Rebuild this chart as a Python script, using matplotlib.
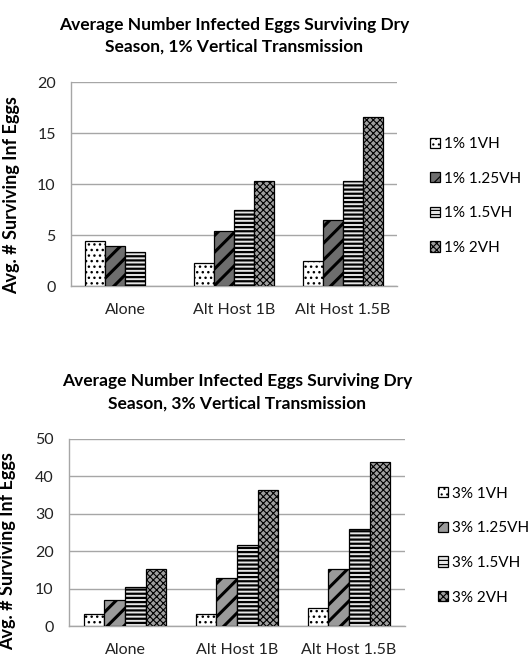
import matplotlib
matplotlib.use("Agg")
import matplotlib.pyplot as plt
from matplotlib.patches import Patch
import numpy as np

plt.rcParams['font.family'] = ['Lato', 'DejaVu Sans']

categories = ["Alone", "Alt Host 1B", "Alt Host 1.5B"]

# 1% vertical transmission
labels_1 = ["1% 1VH", "1% 1.25VH", "1% 1.5VH", "1% 2VH"]
vh1_1 = [4.4, 2.25, 2.5]
vh125_1 = [3.9, 5.4, 6.5]
vh15_1 = [3.3, 7.45, 10.3]
vh2_1 = [0.0, 10.3, 16.6]

# 3% vertical transmission
labels_3 = ["3% 1VH", "3% 1.25VH", "3% 1.5VH", "3% 2VH"]
vh1_3 = [3.2, 3.2, 4.8]
vh125_3 = [6.9, 12.9, 15.4]
vh15_3 = [10.4, 21.7, 26.0]
vh2_3 = [15.2, 36.4, 43.7]

title_1 = "Average Number Infected Eggs Surviving Dry\nSeason, 1% Vertical Transmission"
title_3 = "Average Number Infected Eggs Surviving Dry\nSeason, 3% Vertical Transmission"
ylab = "Avg. # Surviving Inf Eggs"

# facecolor, hatch, hatch linewidth
styles_1 = [("white", "...", 1.0), ("#6e6e6e", "//", 2.2), ("#e6e6e6", "----", 1.6), ("#a0a0a0", "xxxxx", 0.8)]
styles_3 = [("white", "...", 1.0), ("#9a9a9a", "//", 2.2), ("#e6e6e6", "----", 1.6), ("#a0a0a0", "xxxxx", 0.8)]

fig = plt.figure(figsize=(5.3, 6.63), dpi=100)


def draw(ax, series, labels, styles, ymax, step, title, leg_x, leg_y, ylab_y):
    x = np.arange(len(categories))
    w = 0.184
    handles = []
    for i, (vals, (fc, hatch, hlw)) in enumerate(zip(series, styles)):
        plt.rcParams['hatch.linewidth'] = hlw
        bars = ax.bar(x + (i - 1.5) * w, vals, w, color=fc, edgecolor="black",
                      linewidth=0.9, hatch=hatch, zorder=3)
        for b in bars:
            if hasattr(b, "set_hatch_linewidth"):
                b.set_hatch_linewidth(hlw)
            if b.get_height() == 0:
                b.set_visible(False)
        h = Patch(facecolor=fc, edgecolor="black", linewidth=0.9, hatch=hatch)
        if hasattr(h, "set_hatch_linewidth"):
            h.set_hatch_linewidth(min(hlw, 1.2))
        handles.append(h)
    ax.set_xlim(-0.5, len(categories) - 0.5)
    ax.set_ylim(0, ymax)
    ax.set_yticks(np.arange(0, ymax + 1, step))
    ax.set_xticks(x)
    ax.set_xticklabels(categories)
    ax.yaxis.grid(True, color="#a6a6a6", linewidth=1.0, zorder=0)
    ax.set_axisbelow(True)
    for s in ["top", "right"]:
        ax.spines[s].set_visible(False)
    for s in ["left", "bottom"]:
        ax.spines[s].set_color("#a6a6a6")
        ax.spines[s].set_linewidth(1.0)
    ax.tick_params(axis="both", length=0, labelsize=11.5, colors="#222222")
    ax.tick_params(axis="x", pad=12)
    ax.tick_params(axis="y", pad=11)
    ax.set_ylabel(ylab, fontsize=13, fontweight="bold")
    ax.yaxis.set_label_coords(-0.156, ylab_y)
    ax.set_title(title, fontsize=12.5, fontweight="bold", pad=22, linespacing=1.45)
    fig.legend(handles, labels, loc="center left", bbox_to_anchor=(leg_x, leg_y),
               frameon=False, fontsize=11, handlelength=0.65, handleheight=0.65,
               handletextpad=0.25, labelspacing=1.35, borderaxespad=0)


ax1 = fig.add_axes([0.134, 0.5686, 0.615, 0.3077])
draw(ax1, [vh1_1, vh125_1, vh15_1, vh2_1], labels_1, styles_1, 20, 5, title_1,
     0.800, 0.7044, 0.446)

ax2 = fig.add_axes([0.130, 0.0554, 0.634, 0.2829])
draw(ax2, [vh1_3, vh125_3, vh15_3, vh2_3], labels_3, styles_3, 50, 10, title_3,
     0.815, 0.177, 0.40)

fig.savefig("out.png", dpi=100)
